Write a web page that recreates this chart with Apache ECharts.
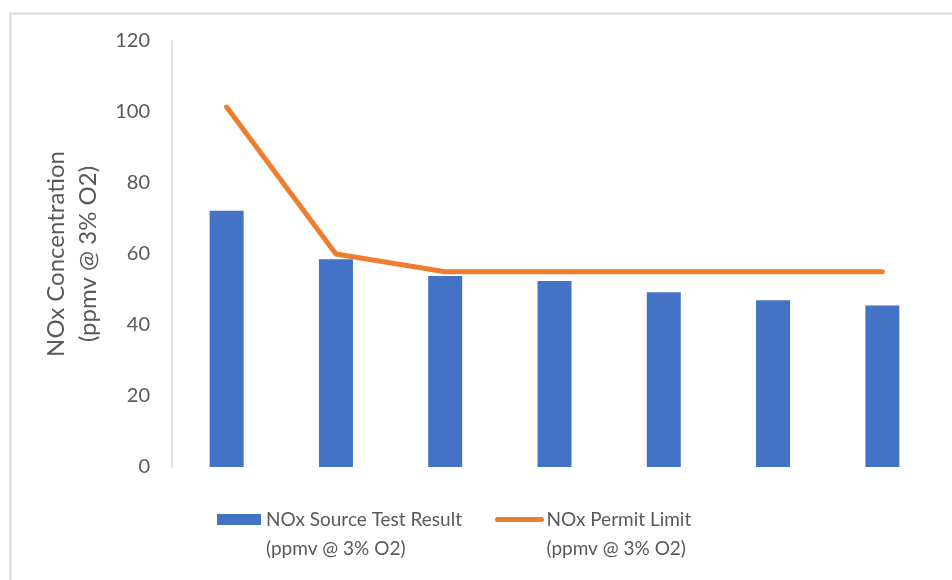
<!DOCTYPE html>
<html>
<head>
<meta charset="utf-8">
<script src="https://cdn.jsdelivr.net/npm/echarts@6/dist/echarts.min.js"></script>
<style>
html,body{margin:0;padding:0;background:#fff;}
#chart{width:952px;height:580px;}
</style>
</head>
<body>
<div id="chart"></div>
<script>
var categories = ['1', '2', '3', '4', '5', '6', '7'];
var sourceTest = [72.2, 58.5, 53.8, 52.4, 49.2, 47.0, 45.5];
var permitLimit = [101.4, 60, 55, 55, 55, 55, 55];
var yTicks = { min: 0, max: 120, interval: 20 };
var seriesNames = ['NOx Source Test Result\n(ppmv @ 3% O2)', 'NOx Permit Limit\n(ppmv @ 3% O2)'];
var yAxisName = 'NOx Concentration\n(ppmv @ 3% O2)';

var FONT = 'Lato';
var TXT = '#595959';
var chart = echarts.init(document.getElementById('chart'), null, { renderer: 'canvas' });
chart.setOption({
  animation: false,
  backgroundColor: '#fff',
  graphic: [{
    type: 'rect', left: 8, top: 11, silent: true,
    shape: { width: 1000, height: 700 },
    style: { fill: 'none', stroke: '#d9d9d9', lineWidth: 2 }
  }],
  grid: { left: 172, right: 15, top: 41, bottom: 113 },
  legend: {
    left: 212, top: 471,
    itemWidth: 44, itemHeight: 11, itemGap: 33,
    formatter: function (n) { return '\n' + n; },
    data: [
      { name: seriesNames[0], icon: 'rect' },
      { name: seriesNames[1], itemStyle: { opacity: 0 }, lineStyle: { width: 5, cap: 'round', color: '#ED7D31' } }
    ],
    textStyle: { fontFamily: FONT, fontSize: 19, color: TXT, lineHeight: 29 }
  },
  xAxis: {
    type: 'category', data: categories,
    axisLine: { show: false }, axisTick: { show: false }, axisLabel: { show: false },
    splitLine: { show: false }
  },
  yAxis: {
    type: 'value', min: yTicks.min, max: yTicks.max, interval: yTicks.interval,
    name: yAxisName, nameLocation: 'middle', nameRotate: 90, nameGap: 62,
    nameTextStyle: { fontFamily: FONT, fontSize: 24, color: TXT, lineHeight: 32 },
    axisLine: { show: true, lineStyle: { color: '#d9d9d9', width: 1.5 } },
    axisTick: { show: false },
    axisLabel: { fontFamily: FONT, fontSize: 20, color: TXT, margin: 22 },
    splitLine: { show: false }
  },
  series: [
    {
      name: seriesNames[0], type: 'bar', data: sourceTest, barWidth: 34,
      itemStyle: { color: '#4472C4' }
    },
    {
      name: seriesNames[1], type: 'line', data: permitLimit, showSymbol: false, symbol: 'none',
      lineStyle: { color: '#ED7D31', width: 5, cap: 'round', join: 'round' },
      itemStyle: { color: '#ED7D31' }
    }
  ]
});
</script>
</body>
</html>
